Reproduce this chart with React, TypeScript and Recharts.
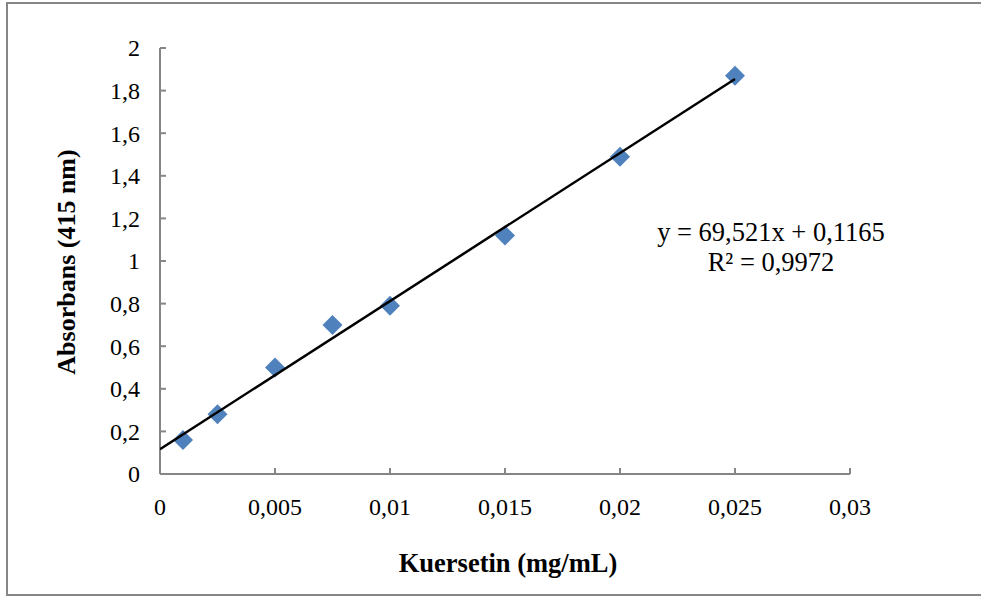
import React from 'react';
import { ScatterChart, Scatter, XAxis, YAxis } from 'recharts';

// Calibration data
const concentrations = [0.001, 0.0025, 0.005, 0.0075, 0.01, 0.015, 0.02, 0.025];
const absorbances = [0.16, 0.28, 0.5, 0.7, 0.79, 1.12, 1.49, 1.87];

// Trendline end points (y = 69,521x + 0,1165)
const trendX = [0, 0.025];
const trendY = [0.1165, 1.8545];

const xTicks = [0, 0.005, 0.01, 0.015, 0.02, 0.025, 0.03];
const yTicks = [0, 0.2, 0.4, 0.6, 0.8, 1, 1.2, 1.4, 1.6, 1.8, 2];

const equationText = 'y = 69,521x + 0,1165';
const r2Text = 'R² = 0,9972';

const W = 981;
const H = 598;
const FONT = '"Liberation Serif", "Times New Roman", serif';
const AXIS_COLOR = '#868686';
const MARKER_COLOR = '#4F81BD';

// plot area edges
const PLOT_LEFT = 160;
const PLOT_BOTTOM = 474;

const pointData = concentrations.map((x, i) => ({ x, y: absorbances[i] }));
const trendData = trendX.map((x, i) => ({ x, y: trendY[i] }));

const fmt = (v: number) => String(v).replace('.', ',');

const Diamond = (props: any) => {
  const { cx, cy } = props;
  if (cx == null || cy == null) return <g />;
  const r = 10;
  return (
    <polygon
      points={`${cx},${cy - r} ${cx + r},${cy} ${cx},${cy + r} ${cx - r},${cy}`}
      fill={MARKER_COLOR}
    />
  );
};

const YTick = (props: any) => {
  const { y, payload } = props;
  return (
    <g>
      <line x1={PLOT_LEFT} x2={PLOT_LEFT + 6} y1={y} y2={y} stroke={AXIS_COLOR} strokeWidth={2} />
      <text x={140} y={y} dy="0.35em" textAnchor="end" fontSize={24} fontFamily={FONT} fill="#000">
        {fmt(payload.value)}
      </text>
    </g>
  );
};

const XTick = (props: any) => {
  const { x, payload } = props;
  return (
    <g>
      <line x1={x} x2={x} y1={PLOT_BOTTOM} y2={PLOT_BOTTOM - 6} stroke={AXIS_COLOR} strokeWidth={2} />
      <text x={x} y={515} textAnchor="middle" fontSize={24} fontFamily={FONT} fill="#000">
        {fmt(payload.value)}
      </text>
    </g>
  );
};

export default function App() {
  return (
    <div
      style={{
        position: 'absolute',
        left: 0,
        top: 0,
        width: W,
        height: H,
        background: '#fff',
        overflow: 'hidden',
      }}
    >
      {/* outer chart border */}
      <div
        style={{
          position: 'absolute',
          left: 6,
          top: 2,
          width: W,
          height: H - 4,
          borderLeft: `2px solid ${AXIS_COLOR}`,
          borderTop: `2px solid ${AXIS_COLOR}`,
          borderBottom: `2px solid ${AXIS_COLOR}`,
          boxSizing: 'border-box',
        }}
      />
      <div style={{ position: 'absolute', left: 0, top: 0 }}>
        <ScatterChart width={W} height={H} margin={{ top: 48, right: 131, left: 100, bottom: 84 }}>
          <XAxis
            type="number"
            dataKey="x"
            domain={[0, 0.03]}
            ticks={xTicks}
            height={40}
            stroke={AXIS_COLOR}
            strokeWidth={2}
            tickLine={false}
            tick={<XTick />}
            allowDataOverflow
          />
          <YAxis
            type="number"
            dataKey="y"
            domain={[0, 2]}
            ticks={yTicks}
            width={60}
            stroke={AXIS_COLOR}
            strokeWidth={2}
            tickLine={false}
            tick={<YTick />}
            allowDataOverflow
          />
          <Scatter data={pointData} shape={<Diamond />} isAnimationActive={false} />
          <Scatter
            data={trendData}
            line={{ stroke: '#000', strokeWidth: 2.5 }}
            shape={() => <g />}
            isAnimationActive={false}
          />
        </ScatterChart>
      </div>
      {/* text overlay */}
      <svg
        width={W}
        height={H}
        style={{ position: 'absolute', left: 0, top: 0, pointerEvents: 'none' }}
      >
        <text x={771} y={232} dy="0.35em" textAnchor="middle" fontSize={26.5} fontFamily={FONT} fill="#000">
          {equationText}
        </text>
        <text x={771} y={262} dy="0.35em" textAnchor="middle" fontSize={26.5} fontFamily={FONT} fill="#000">
          {r2Text}
        </text>
        <text x={508} y={563} dy="0.35em" textAnchor="middle" fontSize={26.5} fontWeight="bold" fontFamily={FONT} fill="#000">
          Kuersetin (mg/mL)
        </text>
        <text
          x={66}
          y={262}
          dy="0.35em"
          textAnchor="middle"
          fontSize={26}
          fontWeight="bold"
          fontFamily={FONT}
          fill="#000"
          transform="rotate(-90 66 262)"
        >
          Absorbans (415 nm)
        </text>
      </svg>
    </div>
  );
}
